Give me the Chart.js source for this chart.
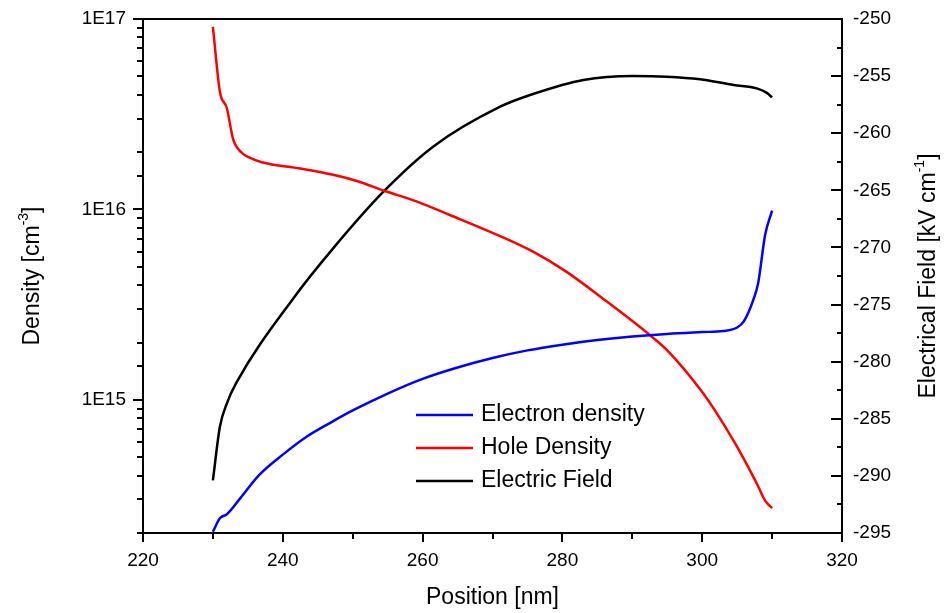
<!DOCTYPE html>
<html>
<head>
<meta charset="utf-8">
<script src="https://cdn.jsdelivr.net/npm/chart.js@4.4.1/dist/chart.umd.min.js"></script>
<style>
  html, body { margin: 0; padding: 0; background: #fff; }
  #wrap { width: 949px; height: 613px; }
</style>
</head>
<body>
<div id="wrap"><canvas id="fieldChart"></canvas></div>
<script>
const FONT = "Arial, 'Liberation Sans', sans-serif";

// Electron density [cm^-3] vs position [nm]
const electronPosition = [230, 231, 232, 233.9, 236.7, 240.1, 243.4, 246.8, 250, 255, 260, 265, 270, 275, 280, 285, 290, 295, 300, 303, 305, 306, 307.3, 308, 309, 310];
const electronDensity = [2.03e14, 2.39e14, 2.51e14, 3.04e14, 4.06e14, 5.19e14, 6.4e14, 7.58e14, 8.8e14, 1.08e15, 1.29e15, 1.48e15, 1.66e15, 1.82e15, 1.95e15, 2.06e15, 2.15e15, 2.22e15, 2.27e15, 2.3e15, 2.4e15, 2.6e15, 3.34e15, 4.09e15, 7.35e15, 9.85e15];

// Hole density [cm^-3]
const holePosition = [230, 231, 232, 232.9, 234.1, 235.1, 237, 242.5, 247.2, 250.6, 254.6, 259.2, 263.9, 271.1, 275.8, 280.6, 285.9, 292.7, 295, 300, 302.5, 305, 307, 308, 309, 310];
const holeDensity = [9.1e16, 4.15e16, 3.4e16, 2.33e16, 1.99e16, 1.88e16, 1.77e16, 1.64e16, 1.52e16, 1.41e16, 1.25e16, 1.1e16, 9.35e15, 7.24e15, 6.0e15, 4.7e15, 3.38e15, 2.16e15, 1.82e15, 1.1e15, 8.05e14, 5.66e14, 4.15e14, 3.52e14, 2.96e14, 2.7e14];

// Electric field [kV/cm]
const fieldPosition = [230, 231, 232, 233.4, 241.5, 247.2, 254.4, 261.5, 271.1, 275.8, 283, 290.1, 294.9, 299.7, 304.5, 307.8, 309.2, 310];
const fieldStrength = [-290.4, -285.7, -283.65, -281.8, -274.46, -270.08, -265.12, -261.18, -257.68, -256.57, -255.34, -254.99, -255.05, -255.28, -255.78, -256.07, -256.45, -256.86];

// Axis ranges and tick steps
const positionRange = [220, 320];
const positionStep = 10;
const positionLabelStep = 20;
const densityRange = [2e14, 1e17];
const fieldRange = [-295, -250];
const fieldStep = 2.5;
const fieldLabelStep = 5;

const seriesNames = ["Electron density", "Hole Density", "Electric Field"];
const seriesColors = ["#0000ff", "#ff0000", "#000000"];

function toPoints(xs, ys) {
  return xs.map((x, i) => ({ x: x, y: ys[i] }));
}

function isDecade(value) {
  const exp = Math.log10(value);
  return Math.abs(exp - Math.round(exp)) < 1e-9;
}

// draws text with superscript parts, centred on (x, y), optionally rotated
function drawRichText(ctx, parts, x, y, rotation, size) {
  ctx.save();
  ctx.translate(x, y);
  ctx.rotate(rotation);
  ctx.fillStyle = "#000";
  ctx.textBaseline = "middle";
  ctx.textAlign = "left";
  const supSize = Math.round(size * 0.62);
  let total = 0;
  parts.forEach((p) => {
    ctx.font = (p.sup ? supSize : size) + "px " + FONT;
    p.w = ctx.measureText(p.text).width;
    total += p.w;
  });
  let cx = -total / 2;
  parts.forEach((p) => {
    ctx.font = (p.sup ? supSize : size) + "px " + FONT;
    ctx.fillText(p.text, cx, p.sup ? -size * 0.38 : 0);
    cx += p.w;
  });
  ctx.restore();
}

const frameAndTicks = {
  id: "frameAndTicks",
  afterDraw(chart) {
    const { ctx, chartArea: a, scales } = chart;
    ctx.save();
    ctx.strokeStyle = "#000";
    ctx.lineWidth = 2;
    ctx.strokeRect(a.left, a.top, a.right - a.left, a.bottom - a.top);

    const seg = (x1, y1, x2, y2) => {
      ctx.beginPath();
      ctx.moveTo(x1, y1);
      ctx.lineTo(x2, y2);
      ctx.stroke();
    };

    scales.x.ticks.forEach((t) => {
      const px = Math.round(scales.x.getPixelForValue(t.value));
      const len = t.value % positionLabelStep === 0 ? 9 : 6;
      seg(px, a.bottom, px, a.bottom + len);
    });

    scales.yDensity.ticks.forEach((t) => {
      const py = Math.round(scales.yDensity.getPixelForValue(t.value));
      const len = isDecade(t.value) ? 10 : 6;
      seg(a.left, py, a.left - len, py);
    });

    scales.yField.ticks.forEach((t) => {
      const py = Math.round(scales.yField.getPixelForValue(t.value));
      const len = t.value % fieldLabelStep === 0 ? 11 : 5;
      seg(a.right, py, a.right - len, py);
    });
    ctx.restore();

    // axis titles
    drawRichText(ctx, [{ text: "Position [nm]" }], (a.left + a.right) / 2, 598, 0, 23);
    drawRichText(ctx, [{ text: "Density [cm" }, { text: "-3", sup: true }, { text: "]" }],
      33, (a.top + a.bottom) / 2, -Math.PI / 2, 23);
    drawRichText(ctx, [{ text: "Electrical Field [kV cm" }, { text: "-1", sup: true }, { text: "]" }],
      929, (a.top + a.bottom) / 2, -Math.PI / 2, 23);
  },
};

const inlineLegend = {
  id: "inlineLegend",
  afterDraw(chart) {
    const ctx = chart.ctx;
    ctx.save();
    ctx.font = "23px " + FONT;
    ctx.textBaseline = "middle";
    ctx.fillStyle = "#000";
    chart.data.datasets.forEach((ds, i) => {
      const y = 415 + i * 33;
      ctx.strokeStyle = ds.borderColor;
      ctx.lineWidth = 2.5;
      ctx.beginPath();
      ctx.moveTo(416, y);
      ctx.lineTo(473, y);
      ctx.stroke();
      ctx.fillText(ds.label, 481, y);
    });
    ctx.restore();
  },
};

const tickFont = { family: FONT, size: 19 };

// y scales: fixed width, and no extra label padding at the ends
function fitVertical(width) {
  return (scale) => {
    scale.width = width;
    scale.paddingTop = 0;
    scale.paddingBottom = 0;
  };
}

new Chart(document.getElementById("fieldChart"), {
  type: "line",
  data: {
    datasets: [
      {
        label: seriesNames[0],
        data: toPoints(electronPosition, electronDensity),
        borderColor: seriesColors[0],
        yAxisID: "yDensity",
      },
      {
        label: seriesNames[1],
        data: toPoints(holePosition, holeDensity),
        borderColor: seriesColors[1],
        yAxisID: "yDensity",
      },
      {
        label: seriesNames[2],
        data: toPoints(fieldPosition, fieldStrength),
        borderColor: seriesColors[2],
        yAxisID: "yField",
      },
    ],
  },
  options: {
    responsive: true,
    maintainAspectRatio: false,
    animation: false,
    devicePixelRatio: 1,
    layout: { padding: { top: 19, left: 0, right: 0, bottom: 0 } },
    elements: {
      point: { radius: 0 },
      line: { borderWidth: 2.5, fill: false, cubicInterpolationMode: "monotone" },
    },
    plugins: {
      legend: { display: false },
      tooltip: { enabled: false },
    },
    scales: {
      x: {
        type: "linear",
        position: "bottom",
        min: positionRange[0],
        max: positionRange[1],
        grid: { display: false, drawTicks: false },
        border: { display: false },
        ticks: {
          stepSize: positionStep,
          autoSkip: false,
          maxRotation: 0,
          padding: 16,
          color: "#000",
          font: tickFont,
          callback: (v) => (v % positionLabelStep === 0 ? v : ""),
        },
        afterFit: (scale) => { scale.height = 80; },
      },
      yDensity: {
        type: "logarithmic",
        position: "left",
        min: densityRange[0],
        max: densityRange[1],
        grid: { display: false, drawTicks: false },
        border: { display: false },
        ticks: {
          autoSkip: false,
          padding: 17,
          color: "#000",
          font: tickFont,
          callback: (v) => (isDecade(v) ? "1E" + Math.round(Math.log10(v)) : ""),
        },
        afterFit: fitVertical(143),
      },
      yField: {
        type: "linear",
        position: "right",
        min: fieldRange[0],
        max: fieldRange[1],
        grid: { display: false, drawTicks: false },
        border: { display: false },
        ticks: {
          stepSize: fieldStep,
          autoSkip: false,
          padding: 11,
          color: "#000",
          font: tickFont,
          callback: (v) => (v % fieldLabelStep === 0 ? v : ""),
        },
        afterFit: fitVertical(107),
      },
    },
  },
  plugins: [frameAndTicks, inlineLegend],
});
</script>
</body>
</html>
